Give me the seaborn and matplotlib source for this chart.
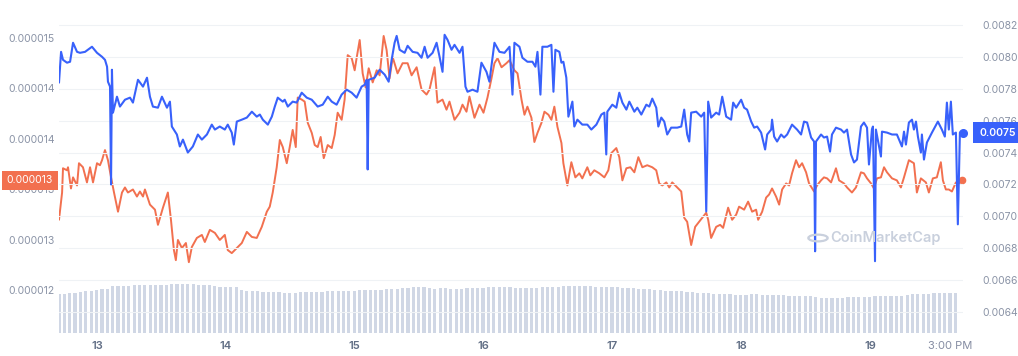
import numpy as np
import matplotlib.pyplot as plt
import matplotlib.transforms as mtransforms
import seaborn as sns

# time axis is in days of the month (13 = 13th, 00:00)
blue_t = [12.705, 12.721, 12.736, 12.767, 12.791, 12.814, 12.845, 12.868, 12.907, 12.961,
          13.000, 13.039, 13.062, 13.078, 13.085, 13.101, 13.109, 13.116, 13.124, 13.155,
          13.178, 13.217, 13.256, 13.279, 13.318, 13.357, 13.388, 13.411, 13.434, 13.473,
          13.504, 13.543, 13.566, 13.581, 13.620, 13.643, 13.667, 13.705, 13.744, 13.783,
          13.814, 13.853, 13.891, 13.915, 13.953, 13.992, 14.015, 14.046, 14.062, 14.085,
          14.124, 14.163, 14.202, 14.240, 14.264, 14.287, 14.326, 14.357, 14.380, 14.403,
          14.442, 14.457, 14.481, 14.519, 14.550, 14.589, 14.628, 14.667, 14.713, 14.752,
          14.791, 14.822, 14.860, 14.899, 14.938, 14.977, 15.015, 15.054, 15.078, 15.093,
          15.101, 15.109, 15.155, 15.194, 15.233, 15.264, 15.287, 15.310, 15.326, 15.349,
          15.388, 15.411, 15.450, 15.488, 15.519, 15.543, 15.566, 15.605, 15.636, 15.659,
          15.682, 15.698, 15.721, 15.752, 15.775, 15.814, 15.837, 15.860, 15.876, 15.915,
          15.953, 15.984, 16.023, 16.046, 16.085, 16.124, 16.163, 16.202, 16.225, 16.240,
          16.279, 16.302, 16.341, 16.380, 16.403, 16.419, 16.442, 16.457, 16.496, 16.527,
          16.543, 16.558, 16.589, 16.605, 16.620, 16.643, 16.659, 16.690, 16.705, 16.729,
          16.767, 16.806, 16.837, 16.876, 16.915, 16.938, 16.953, 16.961, 17.000, 17.031,
          17.054, 17.078, 17.109, 17.132, 17.171, 17.194, 17.225, 17.264, 17.287, 17.310,
          17.341, 17.357, 17.380, 17.403, 17.426, 17.457, 17.504, 17.535, 17.558, 17.581,
          17.597, 17.612, 17.651, 17.690, 17.713, 17.729, 17.744, 17.767, 17.806, 17.829,
          17.853, 17.884, 17.922, 17.938, 17.961, 18.000, 18.023, 18.046, 18.078, 18.101,
          18.124, 18.155, 18.186, 18.202, 18.233, 18.240, 18.256, 18.279, 18.310, 18.333,
          18.357, 18.395, 18.434, 18.465, 18.488, 18.512, 18.543, 18.566, 18.574, 18.581,
          18.620, 18.643, 18.667, 18.690, 18.705, 18.736, 18.775, 18.798, 18.822, 18.853,
          18.876, 18.899, 18.930, 18.953, 18.977, 18.992, 19.015, 19.023, 19.039, 19.046,
          19.070, 19.085, 19.093, 19.132, 19.171, 19.209, 19.248, 19.264, 19.279, 19.302,
          19.326, 19.341, 19.357, 19.372, 19.395, 19.403, 19.419, 19.442, 19.481, 19.527,
          19.558, 19.581, 19.597, 19.612, 19.628, 19.643, 19.667, 19.682, 19.698, 19.721]

# right axis price, in units of 0.001
blue_v = [7.838, 8.031, 7.981, 7.963, 7.969, 8.088, 8.031, 8.025, 8.031, 8.063,
          8.025, 8.000, 7.981, 7.938, 7.844, 7.813, 7.200, 7.919, 7.650, 7.750,
          7.688, 7.731, 7.744, 7.713, 7.856, 7.813, 7.869, 7.750, 7.688, 7.681,
          7.750, 7.681, 7.719, 7.563, 7.513, 7.438, 7.481, 7.400, 7.438, 7.513,
          7.481, 7.513, 7.575, 7.544, 7.563, 7.544, 7.575, 7.525, 7.450, 7.594,
          7.606, 7.619, 7.656, 7.625, 7.638, 7.606, 7.575, 7.625, 7.688, 7.744,
          7.719, 7.731, 7.688, 7.719, 7.713, 7.775, 7.744, 7.731, 7.688, 7.700,
          7.750, 7.719, 7.700, 7.763, 7.794, 7.775, 7.744, 7.813, 7.825, 7.856,
          7.294, 7.856, 7.869, 7.919, 7.888, 7.844, 7.981, 8.088, 8.131, 8.044,
          8.025, 8.069, 8.031, 8.025, 7.994, 8.063, 7.994, 8.025, 8.088, 8.000,
          7.906, 8.138, 8.106, 8.044, 8.075, 8.025, 8.063, 7.813, 7.781, 7.794,
          7.781, 7.963, 7.906, 7.844, 8.088, 8.031, 8.025, 8.063, 7.763, 8.088,
          8.063, 7.994, 7.969, 7.969, 7.938, 8.031, 7.763, 8.063, 8.063, 8.075,
          7.781, 8.044, 8.031, 7.963, 7.969, 7.869, 7.625, 7.719, 7.563, 7.606,
          7.575, 7.575, 7.544, 7.575, 7.638, 7.650, 7.388, 7.656, 7.700, 7.681,
          7.775, 7.713, 7.669, 7.719, 7.656, 7.681, 7.638, 7.700, 7.688, 7.738,
          7.681, 7.563, 7.619, 7.594, 7.513, 7.556, 7.556, 7.563, 7.669, 7.513,
          7.469, 7.650, 7.656, 7.625, 7.650, 7.031, 7.719, 7.619, 7.650, 7.638,
          7.750, 7.625, 7.606, 7.713, 7.681, 7.731, 7.681, 7.669, 7.594, 7.556,
          7.563, 7.525, 7.419, 7.513, 7.544, 7.606, 7.500, 7.469, 7.513, 7.494,
          7.513, 7.575, 7.544, 7.513, 7.594, 7.588, 7.494, 7.469, 6.781, 7.469,
          7.513, 7.494, 7.500, 7.406, 7.513, 7.556, 7.544, 7.525, 7.544, 7.388,
          7.338, 7.356, 7.563, 7.588, 7.556, 7.325, 7.544, 7.563, 6.719, 7.544,
          7.438, 7.375, 7.531, 7.525, 7.513, 7.513, 7.438, 7.531, 7.450, 7.588,
          7.606, 7.544, 7.594, 7.500, 7.400, 7.513, 7.356, 7.463, 7.525, 7.594,
          7.544, 7.500, 7.713, 7.544, 7.719, 7.513, 7.525, 6.950, 7.525, 7.525]

orange_t = [12.705, 12.729, 12.736, 12.767, 12.775, 12.798, 12.814, 12.845, 12.860, 12.891,
            12.922, 12.946, 12.969, 13.000, 13.023, 13.039, 13.062, 13.085, 13.109, 13.132,
            13.163, 13.194, 13.217, 13.240, 13.279, 13.310, 13.333, 13.357, 13.372, 13.411,
            13.450, 13.473, 13.512, 13.550, 13.574, 13.597, 13.612, 13.628, 13.659, 13.690,
            13.713, 13.736, 13.775, 13.814, 13.837, 13.876, 13.915, 13.953, 13.992, 14.015,
            14.046, 14.085, 14.124, 14.163, 14.202, 14.240, 14.279, 14.318, 14.341, 14.364,
            14.395, 14.419, 14.442, 14.473, 14.496, 14.519, 14.543, 14.558, 14.589, 14.612,
            14.636, 14.667, 14.690, 14.713, 14.736, 14.760, 14.791, 14.822, 14.845, 14.868,
            14.899, 14.922, 14.946, 14.977, 15.000, 15.015, 15.039, 15.062, 15.085, 15.109,
            15.140, 15.171, 15.194, 15.225, 15.248, 15.271, 15.295, 15.333, 15.372, 15.411,
            15.442, 15.481, 15.519, 15.558, 15.581, 15.620, 15.643, 15.682, 15.713, 15.736,
            15.775, 15.814, 15.837, 15.868, 15.891, 15.930, 15.969, 16.000, 16.031, 16.062,
            16.085, 16.109, 16.140, 16.178, 16.202, 16.240, 16.264, 16.295, 16.318, 16.341,
            16.372, 16.395, 16.419, 16.450, 16.473, 16.504, 16.527, 16.550, 16.574, 16.605,
            16.620, 16.651, 16.682, 16.713, 16.744, 16.767, 16.806, 16.829, 16.860, 16.899,
            16.938, 16.969, 16.992, 17.031, 17.054, 17.078, 17.109, 17.140, 17.171, 17.202,
            17.233, 17.271, 17.310, 17.341, 17.364, 17.388, 17.419, 17.442, 17.465, 17.504,
            17.535, 17.558, 17.581, 17.612, 17.643, 17.667, 17.698, 17.729, 17.744, 17.767,
            17.806, 17.837, 17.860, 17.899, 17.930, 17.961, 17.984, 18.023, 18.054, 18.085,
            18.116, 18.132, 18.163, 18.194, 18.217, 18.240, 18.271, 18.295, 18.318, 18.349,
            18.372, 18.395, 18.426, 18.450, 18.473, 18.504, 18.527, 18.566, 18.589, 18.620,
            18.643, 18.667, 18.698, 18.736, 18.760, 18.798, 18.822, 18.860, 18.891, 18.930,
            18.953, 18.977, 19.008, 19.031, 19.054, 19.085, 19.109, 19.132, 19.171, 19.209,
            19.240, 19.264, 19.302, 19.341, 19.364, 19.395, 19.434, 19.457, 19.488, 19.519,
            19.550, 19.566, 19.589, 19.612, 19.636, 19.667, 19.690, 19.713]

# left axis price, in units of 0.000001
orange_v = [13.20, 13.47, 13.71, 13.69, 13.72, 13.51, 13.62, 13.54, 13.76, 13.72,
            13.57, 13.72, 13.57, 13.76, 13.74, 13.79, 13.89, 13.79, 13.62, 13.47,
            13.28, 13.47, 13.52, 13.47, 13.50, 13.43, 13.48, 13.43, 13.50, 13.35,
            13.30, 13.15, 13.32, 13.47, 13.20, 12.90, 12.80, 13.00, 12.92, 12.97,
            12.78, 12.93, 13.02, 13.05, 12.98, 13.10, 13.07, 13.00, 13.05, 12.90,
            12.87, 12.92, 12.97, 13.08, 13.03, 13.02, 13.13, 13.28, 13.33, 13.47,
            13.72, 13.99, 13.92, 13.76, 13.92, 14.09, 13.92, 14.41, 14.39, 14.37,
            14.16, 14.06, 13.94, 13.92, 14.02, 13.81, 13.94, 13.91, 14.04, 14.26,
            14.19, 14.39, 14.83, 14.80, 14.68, 14.80, 14.98, 14.65, 14.51, 14.70,
            14.56, 14.68, 14.63, 15.02, 14.88, 14.60, 14.81, 14.65, 14.75, 14.75,
            14.63, 14.71, 14.49, 14.44, 14.49, 14.71, 14.36, 14.39, 14.29, 14.37,
            14.19, 14.26, 14.34, 14.27, 14.42, 14.21, 14.34, 14.26, 14.41, 14.60,
            14.75, 14.80, 14.71, 14.75, 14.78, 14.68, 14.65, 14.39, 14.24, 14.32,
            14.21, 13.97, 14.06, 14.16, 14.27, 14.24, 14.19, 14.32, 14.12, 13.96,
            13.76, 13.54, 13.77, 13.62, 13.66, 13.61, 13.72, 13.64, 13.69, 13.66,
            13.62, 13.69, 13.86, 13.91, 13.82, 13.59, 13.71, 13.72, 13.67, 13.82,
            13.72, 13.74, 13.72, 13.69, 13.56, 13.54, 13.57, 13.52, 13.57, 13.52,
            13.48, 13.22, 13.18, 12.95, 13.13, 13.17, 13.22, 13.27, 13.20, 13.02,
            13.13, 13.15, 13.12, 13.32, 13.20, 13.25, 13.33, 13.30, 13.38, 13.28,
            13.30, 13.20, 13.28, 13.42, 13.45, 13.51, 13.43, 13.35, 13.50, 13.56,
            13.54, 13.66, 13.79, 13.72, 13.76, 13.67, 13.56, 13.48, 13.54, 13.59,
            13.62, 13.61, 13.57, 13.71, 13.59, 13.56, 13.52, 13.47, 13.52, 13.67,
            13.66, 13.61, 13.56, 13.51, 13.61, 13.62, 13.72, 13.67, 13.61, 13.59,
            13.52, 13.62, 13.79, 13.76, 13.47, 13.61, 13.57, 13.47, 13.61, 13.62,
            13.77, 13.59, 13.50, 13.50, 13.48, 13.57, 13.56, 13.59]

# hourly volume (relative units), first bar at vol_start
vol_start = 12.705
vol = [39, 39, 40, 40, 41, 42, 42, 43, 44, 44, 47, 47, 47, 47, 48, 48, 48, 48, 48, 48, 48, 49, 49, 49,
       49, 49, 48, 48, 48, 47, 46, 46, 46, 46, 43, 42, 42, 42, 41, 41, 41, 41, 40, 40, 40, 41, 41, 41,
       41, 41, 42, 42, 42, 42, 42, 42, 43, 43, 43, 43, 43, 44, 44, 44, 45, 45, 46, 46, 46, 45, 44, 45,
       45, 44, 44, 44, 45, 45, 45, 45, 46, 46, 46, 46, 46, 45, 45, 45, 45, 45, 46, 46, 46, 46, 47, 47,
       47, 47, 47, 47, 46, 46, 46, 46, 46, 45, 45, 45, 44, 44, 44, 43, 43, 42, 42, 42, 42, 41, 41, 40,
       40, 40, 39, 39, 39, 39, 38, 38, 38, 39, 39, 38, 38, 38, 38, 38, 37, 37, 37, 37, 37, 36, 35, 35,
       35, 35, 35, 36, 36, 36, 36, 36, 37, 37, 37, 37, 37, 37, 38, 39, 39, 39, 39, 40, 40, 40, 40, 40]

x_ticks = [13, 14, 15, 16, 17, 18, 19, 19.625]
x_labels = ['13', '14', '15', '16', '17', '18', '19', '3:00 PM']
left_ticks = [15.0, 14.5, 14.0, 13.5, 13.0, 12.5]
left_labels = ['0.000015', '0.000014', '0.000014', '0.000013', '0.000013', '0.000012']
right_ticks = [6.4, 6.6, 6.8, 7.0, 7.2, 7.4, 7.6, 7.8, 8.0, 8.2]
right_labels = ['0.0064', '0.0066', '0.0068', '0.0070', '0.0072', '0.0074',
                '0.0076', '0.0078', '0.0080', '0.0082']

BLUE = '#3861FB'
ORANGE = '#F2704F'
GREY = '#8A93A6'

sns.set_theme(style='white')
plt.rcParams['font.family'] = ['Inter', 'DejaVu Sans']

fig = plt.figure(figsize=(10.18, 3.56), dpi=100)
rect = [59 / 1018, 1 - 333 / 356, 904 / 1018, 333 / 356]

ax_vol = fig.add_axes(rect)
times = vol_start + np.arange(len(vol)) / 24
ax_vol.bar(times, vol, width=0.6 / 24, color='#D0D7E5', linewidth=0)
ax_vol.set_ylim(0, 333)
ax_vol.axis('off')

ax_l = fig.add_axes(rect, sharex=ax_vol)
ax_l.patch.set_alpha(0)
ax_r = ax_l.twinx()

sns.lineplot(x=orange_t, y=np.array(orange_v) * 1e-6, ax=ax_l, color=ORANGE, lw=1.4,
             sort=False, estimator=None, zorder=3)
ax_l.plot(orange_t[-1], orange_v[-1] * 1e-6, 'o', color=ORANGE, ms=4.5, zorder=4, clip_on=False)

sns.lineplot(x=blue_t, y=np.array(blue_v) * 1e-3, ax=ax_r, color=BLUE, lw=1.5,
             sort=False, estimator=None, zorder=3)
ax_r.plot(blue_t[-1], blue_v[-1] * 1e-3, 'o', color=BLUE, ms=5.5, zorder=4, clip_on=False)

ax_l.set_xlim(12.705, 19.722)
ax_l.set_ylim(12.079e-6, 15.376e-6)
ax_r.set_ylim(0.006269, 0.008356)

ax_l.set_yticks(np.array(left_ticks) * 1e-6)
ax_l.set_yticklabels(left_labels)
ax_r.set_yticks(np.array(right_ticks) * 1e-3)
ax_r.set_yticklabels(right_labels)
ax_l.set_xticks(x_ticks)
ax_l.set_xticklabels(x_labels)

ax_l.tick_params(axis='y', length=0, pad=3, labelsize=7.5, labelcolor=GREY)
ax_r.tick_params(axis='y', length=0, pad=14, labelsize=7.5, labelcolor=GREY)
ax_l.tick_params(axis='x', length=0, pad=6, labelsize=8)
for lab in ax_l.get_xticklabels():
    if lab.get_text() == '3:00 PM':
        lab.set_color('#858CA2')
    else:
        lab.set_color('#616E85')
        lab.set_fontweight('semibold')

ax_r.grid(axis='y', color='#EFF2F5', lw=0.8)
ax_r.set_axisbelow(True)
for a in (ax_l, ax_r):
    for s in a.spines.values():
        s.set_visible(False)
ax_l.set_ylabel('')
ax_r.set_ylabel('')

# current price tags
tl = mtransforms.blended_transform_factory(fig.transFigure, ax_l.transData)
ax_l.text(53 / 1018, orange_v[-1] * 1e-6, '0.000013', transform=tl, ha='right', va='center',
          fontsize=7.5, color='white', clip_on=False, zorder=10,
          bbox=dict(boxstyle='square,pad=0.45', fc=ORANGE, ec='none'))
tr = mtransforms.blended_transform_factory(fig.transFigure, ax_r.transData)
ax_r.text(979 / 1018, blue_v[-1] * 1e-3, '0.0075', transform=tr, ha='left', va='center',
          fontsize=7.5, color='white', fontweight='semibold', clip_on=False, zorder=10,
          bbox=dict(boxstyle='square,pad=0.55', fc=BLUE, ec='none'))

# watermark
fig.patches.append(plt.Circle((818 / 1018, 1 - 238 / 356), 0.0095, transform=fig.transFigure,
                              fill=False, ec='#C9D0DD', lw=1.6))
fig.text(830 / 1018, 1 - 238 / 356, 'CoinMarketCap', ha='left', va='center', fontsize=10.5,
         color='#C9D0DD', fontweight='semibold')

fig.savefig('out.png', dpi=100)
